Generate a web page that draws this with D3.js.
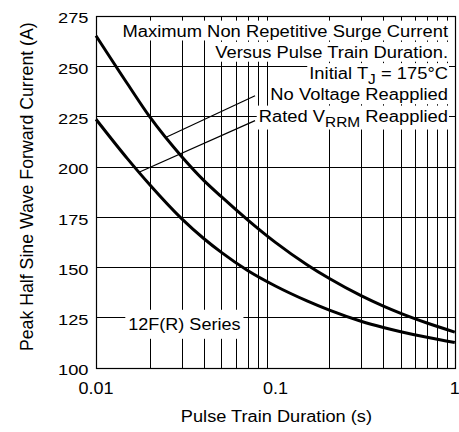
<!DOCTYPE html>
<html>
<head>
<meta charset="utf-8">
<script src="https://cdn.jsdelivr.net/npm/d3@7/dist/d3.min.js"></script>
<style>
  html, body { margin: 0; padding: 0; background: #fff; }
  svg { display: block; }
  text { font-family: "Liberation Sans", Arial, Helvetica, sans-serif; fill: #000; }
</style>
</head>
<body>
<svg id="chart" width="459" height="432"></svg>
<script>
// ---- data ----
const durations = [0.01, 0.015, 0.02, 0.03, 0.04, 0.05, 0.07, 0.1, 0.15, 0.2, 0.3, 0.4, 0.5, 0.7, 1];
const noVoltage = [265, 241, 224.5, 205, 193, 185, 173.5, 162.3, 151.2, 144.3, 135.8, 130.6, 127, 122.2, 117.7];
const ratedVrrm = [223.5, 203.8, 190.8, 174.1, 164.1, 157.3, 148.3, 140.6, 133.2, 128.6, 123.1, 120, 117.9, 115.1, 112.5];
const xTicks = [0.01, 0.1, 1];
const xTickLabels = ["0.01", "0.1", "1"];
const xGrid = [0.02,0.03,0.04,0.05,0.06,0.07,0.08,0.09,0.2,0.3,0.4,0.5,0.6,0.7,0.8,0.9];
const yTicks = [100, 125, 150, 175, 200, 225, 250, 275];
const yGrid = [125, 150, 175, 200, 225, 250];
const legendLines = [
  [["Maximum Non Repetitive Surge Current", false]],
  [["Versus Pulse Train Duration.", false]],
  [["Initial T", false], ["J", true], [" = 175°C", false]],
  [["No Voltage Reapplied", false]],
  [["Rated V", false], ["RRM", true], [" Reapplied", false]]
];
const seriesLabel = "12F(R) Series";
const xTitle = "Pulse Train Duration (s)";
const yTitle = "Peak Half Sine Wave Forward Current (A)";
// leader anchors (data coordinates): label end point and the duration where it meets its curve
const leaders = [
  {fx: 0.077, fy: 235.2, tx: 0.0246, series: "no"},
  {fx: 0.077, fy: 222.8, tx: 0.01737, series: "rated"}
];

// ---- layout ----
const svg = d3.select("#chart");
const x = d3.scaleLog().domain([0.01, 1]).range([96, 454.8]);
const y = d3.scaleLinear().domain([100, 275]).range([367.7, 15.6]);

function stext(g, px, py, anchor, size, sx, parts) {
  const t = g.append("text")
    .attr("transform", `translate(${px},${py}) scale(${sx},1)`)
    .attr("text-anchor", anchor)
    .style("font-size", size + "px");
  if (typeof parts === "string") { t.text(parts); return t; }
  let shifted = false;
  parts.forEach(([s, sub]) => {
    const ts = t.append("tspan").text(s);
    if (sub) { ts.attr("dy", 5).style("font-size", (size * 0.84) + "px"); shifted = true; }
    else if (shifted) { ts.attr("dy", -5); shifted = false; }
  });
  return t;
}

// grid
const grid = svg.append("g").attr("stroke", "#000").attr("stroke-width", 1).attr("shape-rendering", "crispEdges");
grid.selectAll("line.v").data(xGrid).join("line")
  .attr("x1", d => Math.round(x(d)) + 0.5).attr("x2", d => Math.round(x(d)) + 0.5)
  .attr("y1", y(100)).attr("y2", y(275));
grid.selectAll("line.h").data(yGrid).join("line")
  .attr("x1", x(0.01)).attr("x2", x(1))
  .attr("y1", d => Math.round(y(d)) + 0.5).attr("y2", d => Math.round(y(d)) + 0.5);

// curves
const line = d3.line().x(d => x(d[0])).y(d => y(d[1])).curve(d3.curveMonotoneX);
const curves = svg.append("g").attr("fill", "none").attr("stroke", "#000").attr("stroke-width", 3).attr("stroke-linejoin", "round");
curves.append("path").attr("d", line(durations.map((d, i) => [d, noVoltage[i]])));
curves.append("path").attr("d", line(durations.map((d, i) => [d, ratedVrrm[i]])));

// leader lines
function interp(arr, v) {
  const lv = Math.log10(v);
  for (let i = 0; i < durations.length - 1; i++) {
    const a = Math.log10(durations[i]), b = Math.log10(durations[i + 1]);
    if (lv >= a && lv <= b) { const t = (lv - a) / (b - a); return arr[i] + t * (arr[i + 1] - arr[i]); }
  }
  return arr[arr.length - 1];
}
svg.append("g").attr("stroke", "#000").attr("stroke-width", 1.2)
  .selectAll("line").data(leaders).join("line")
  .attr("x1", d => x(d.fx)).attr("y1", d => y(d.fy))
  .attr("x2", d => x(d.tx)).attr("y2", d => y(interp(d.series === "no" ? noVoltage : ratedVrrm, d.tx)));

// legend text with white boxes (boxes first, then texts)
const boxes = svg.append("g");
const leg = svg.append("g");
const legSx = 1.12;
legendLines.forEach((parts, i) => {
  const py = 36.7 + 21.25 * i;
  const t = stext(leg, 448, py, "end", 16.4, legSx, parts);
  const bb = t.node().getBBox();
  boxes.append("rect")
    .attr("x", 448 + bb.x * legSx - 2).attr("y", py + bb.y - 1)
    .attr("width", bb.width * legSx + 3).attr("height", bb.height + 1)
    .attr("fill", "#fff");
});

// series label
{
  const gi = svg.append("g");
  const px = 128.3, py = 330;
  const t = stext(gi, px, py, "start", 16.4, 1.1, seriesLabel);
  const bb = t.node().getBBox();
  gi.insert("rect", "text")
    .attr("x", px + bb.x * 1.1 - 3).attr("y", py + bb.y - 5)
    .attr("width", bb.width * 1.1 + 6).attr("height", bb.height + 10)
    .attr("fill", "#fff");
}

// frame
svg.append("rect").attr("x", Math.round(x(0.01)) + 0.5).attr("y", Math.round(y(275)) + 0.5)
  .attr("width", Math.round(x(1)) - Math.round(x(0.01))).attr("height", Math.round(y(100)) - Math.round(y(275)))
  .attr("fill", "none").attr("stroke", "#000").attr("stroke-width", 1.2);

// tick labels
const yl = svg.append("g");
yTicks.forEach(v => stext(yl, 88.5, y(v) + 7.7, "end", 15.2, 1.2, String(v)));
const xl = svg.append("g");
xTicks.forEach((v, i) => stext(xl, x(v), 394, "middle", 16.4, 1.1, xTickLabels[i]));

// titles
stext(svg, (x(0.01) + x(1)) / 2 + 1, 421.7, "middle", 16.4, 1.11, xTitle);
svg.append("text")
  .attr("transform", `translate(32.7,${186.7}) rotate(-90)`)
  .attr("text-anchor", "middle")
  .style("font-size", "17.7px")
  .text(yTitle);
</script>
</body>
</html>
